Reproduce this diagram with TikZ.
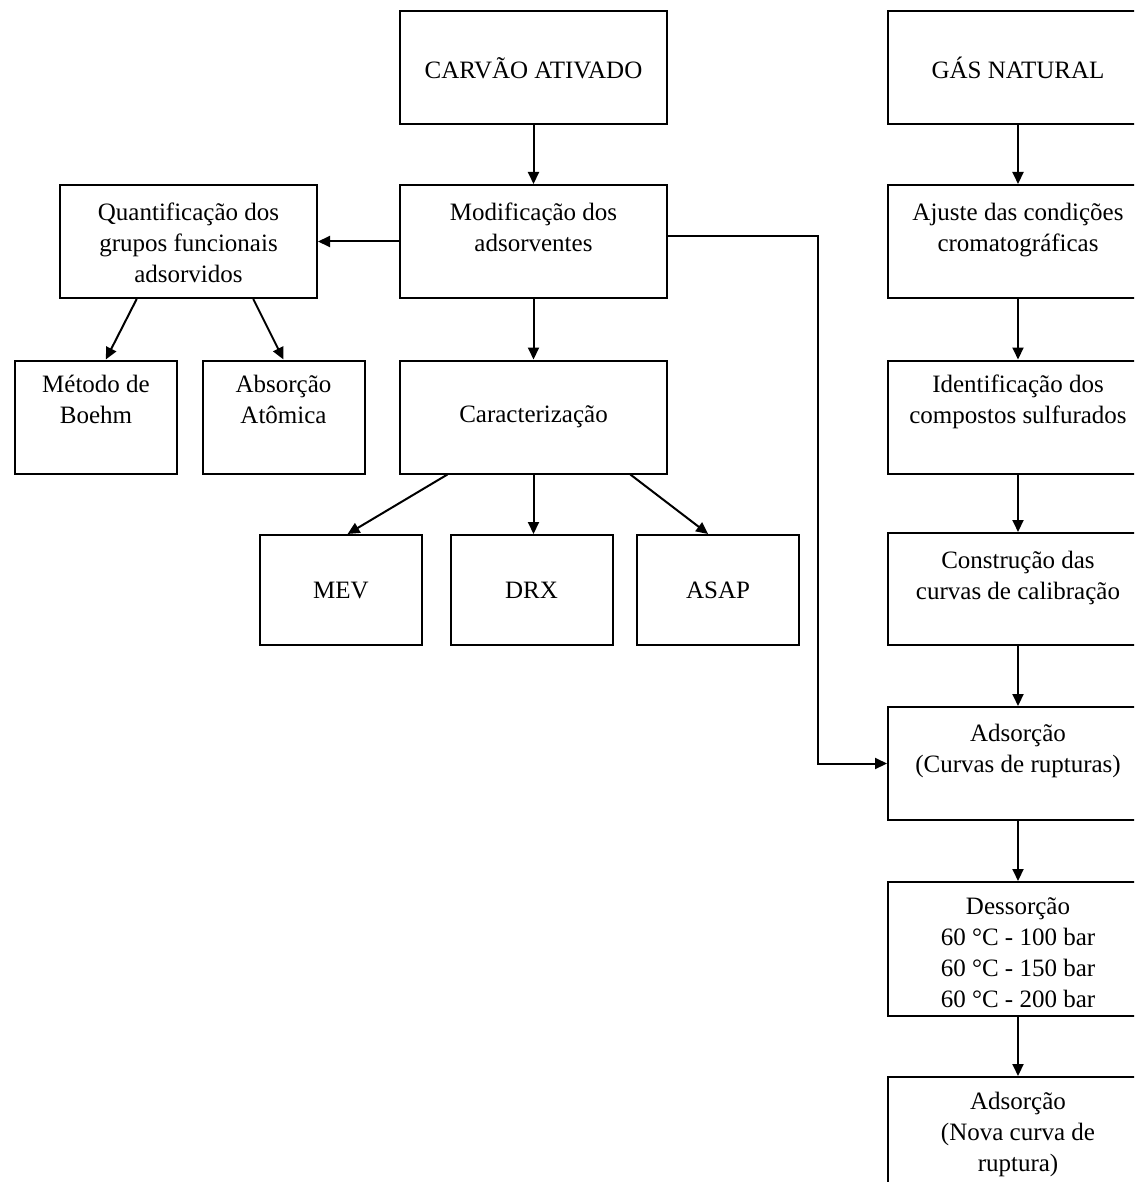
\documentclass[tikz,border=0pt]{standalone}
\usepackage{fontspec}
\setmainfont{Liberation Serif}
\usetikzlibrary{positioning,calc,arrows.meta}

\begin{document}
\begin{tikzpicture}[x=1pt,y=-1pt,line width=2pt,
  >={Triangle[length=12pt,width=11pt]},
  every node/.style={font=\fontsize{25}{31}\selectfont}]
  \tikzstyle{box} = [draw,line width=2pt,inner sep=0pt,minimum height=113pt]
  \tikzstyle{wide} = [box,minimum width=267pt]
  \tikzstyle{small} = [box,minimum width=162pt]
  \tikzstyle{side} = [box,minimum width=260pt]
  \tikzstyle{txt} = [align=center,inner sep=0pt]
  \clip (0,0) rectangle (1134,1182);
  % left part
  \node (carvao) [wide] at (533.5,68) {CARVÃO ATIVADO};
  \node (mod) [wide] at (533.5,241.5) {};
  \node (modT) [txt,below=18pt of mod.north] {Modificação dos\\adsorventes};
  \node (quant) [box,minimum width=257pt] at (188.5,241.5) {};
  \node (quantT) [txt,below=18pt of quant.north] {Quantificação dos\\grupos funcionais\\adsorvidos};
  \node (boehm) [small] at (96,417) {};
  \node (boehmT) [txt,below=15pt of boehm.north] {Método de\\Boehm};
  \node (absor) [small] at (283.5,417) {};
  \node (absorT) [txt,below=15pt of absor.north] {Absorção\\Atômica};
  \node (carac) [wide] at (533.5,417) {Caracterização};
  \node (mev) [small,minimum height=110pt] at (341,590) {MEV};
  \node (drx) [small,minimum height=110pt] at (531.5,590) {DRX};
  \node (asap) [small,minimum height=110pt] at (718,590) {ASAP};
  % right part
  \node (gas) [side] at (1018,68) {GÁS NATURAL};
  \node (ajuste) [side] at (1018,241.5) {};
  \node (ajusteT) [txt,below=18pt of ajuste.north] {Ajuste das condições\\cromatográficas};
  \node (ident) [side] at (1018,417) {};
  \node (identT) [txt,below=14pt of ident.north] {Identificação dos\\compostos sulfurados};
  \node (constr) [side,minimum height=112pt] at (1018,589) {};
  \node (constrT) [txt,below=18pt of constr.north] {Construção das\\curvas de calibração};
  \node (adsA) [side] at (1018,763.5) {};
  \node (adsAT) [txt,below=17pt of adsA.north] {Adsorção\\(Curvas de rupturas)};
  \node (dess) [side,minimum height=134pt] at (1018,949) {};
  \node (dessT) [txt,below=16pt of dess.north] {Dessorção\\60 °C - 100 bar\\60 °C - 150 bar\\60 °C - 200 bar};
  \node (adsB) [side] at (1018,1133.5) {};
  \node (adsBT) [txt,below=15pt of adsB.north] {Adsorção\\(Nova curva de\\ruptura)};
  \coordinate (bend) at (818,0);
  % connectors
  \draw[->] (carvao) -- (mod);
  \draw[->] (mod) -- (quant);
  \draw[->] ($(quant.south west)!0.3!(quant.south east)$) -- ($(boehm.north west)!0.56!(boehm.north east)$);
  \draw[->] ($(quant.south west)!0.75!(quant.south east)$) -- (absor.north);
  \draw[->] (mod) -- (carac);
  \draw[->] ($(carac.south west)!0.18!(carac.south east)$) -- ($(mev.north west)!0.54!(mev.north east)$);
  \draw[->] (carac.south) -- (carac.south |- drx.north);
  \draw[->] ($(carac.south west)!0.86!(carac.south east)$) -- ($(asap.north west)!0.44!(asap.north east)$);
  \draw[->] ([yshift=5pt]mod.east) -- ([yshift=5pt]mod.east -| bend) |- (adsA.west);
  \foreach \a/\b in {gas/ajuste,ajuste/ident,ident/constr,constr/adsA,adsA/dess,dess/adsB}
    \draw[->] (\a) -- (\b);
\end{tikzpicture}
\end{document}
